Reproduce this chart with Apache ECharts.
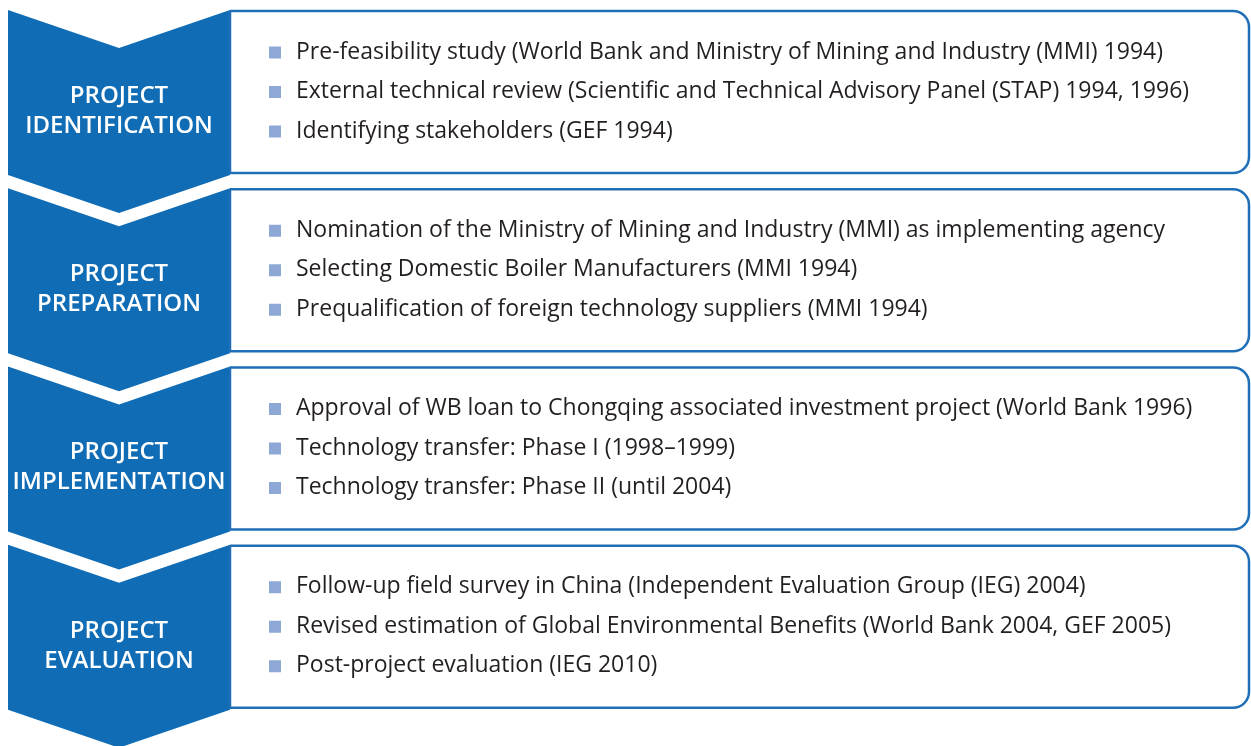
<!DOCTYPE html>
<html>
<head>
<meta charset="utf-8">
<script src="https://cdn.jsdelivr.net/npm/echarts@6/dist/echarts.min.js"></script>
<style>
  html, body { margin: 0; padding: 0; background: #fff; }
  #main { width: 1251px; height: 746px; }
</style>
</head>
<body>
<div id="main"></div>
<script>
// stage names (two lines each)
var stages = [
  ['PROJECT', 'IDENTIFICATION'],
  ['PROJECT', 'PREPARATION'],
  ['PROJECT', 'IMPLEMENTATION'],
  ['PROJECT', 'EVALUATION']
];
// activities per stage
var identification = [
  'Pre-feasibility study (World Bank and Ministry of Mining and Industry (MMI) 1994)',
  'External technical review (Scientific and Technical Advisory Panel (STAP) 1994, 1996)',
  'Identifying stakeholders (GEF 1994)'
];
var preparation = [
  'Nomination of the Ministry of Mining and Industry (MMI) as implementing agency',
  'Selecting Domestic Boiler Manufacturers (MMI 1994)',
  'Prequalification of foreign technology suppliers (MMI 1994)'
];
var implementation = [
  'Approval of WB loan to Chongqing associated investment project (World Bank 1996)',
  'Technology transfer: Phase I (1998\u20131999)',
  'Technology transfer: Phase II (until 2004)'
];
var evaluation = [
  'Follow-up field survey in China (Independent Evaluation Group (IEG) 2004)',
  'Revised estimation of Global Environmental Benefits (World Bank 2004, GEF 2005)',
  'Post-project evaluation (IEG 2010)'
];
var items = [identification, preparation, implementation, evaluation];

// colours
var blue = '#0f6cb5';
var border = '#1f6fb8';
var bullet = '#8ea8d6';
var textColor = '#231f20';

var chart = echarts.init(document.getElementById('main'));

function renderStage(params, api) {
  var i = api.value(0);
  var c = api.coord([0, i]);
  var band = api.size([0, 1])[1];
  var top = c[1] - band / 2;
  var xs = [8, 119, 230];
  var point = 38, side = 165;
  var children = [];
  // chevron
  children.push({
    type: 'polygon',
    shape: {
      points: [
        [xs[0], top], [xs[1], top + point], [xs[2], top],
        [xs[2], top + side], [xs[1], top + side + point], [xs[0], top + side]
      ]
    },
    style: { fill: blue }
  });
  // box
  children.push({
    type: 'rect',
    shape: { x: xs[2], y: top + 1, width: 1019, height: 162, r: [0, 16, 16, 0] },
    style: { fill: '#fff', stroke: border, lineWidth: 2.5 }
  });
  // stage label
  children.push({
    type: 'text',
    style: {
      x: xs[1], y: top + 101,
      text: stages[i].join('\n'),
      fill: '#fff',
      font: '600 24px "Open Sans"',
      lineHeight: 30,
      align: 'center',
      verticalAlign: 'middle'
    }
  });
  // items
  items[i].forEach(function (t, k) {
    var y = top + 42 + k * 39.5;
    children.push({
      type: 'rect',
      shape: { x: 269, y: y - 5.5, width: 12, height: 12 },
      style: { fill: bullet }
    });
    children.push({
      type: 'text',
      style: {
        x: 296, y: y,
        text: t,
        fill: textColor,
        font: '23px "Open Sans"',
        verticalAlign: 'middle'
      }
    });
  });
  return { type: 'group', children: children };
}

var option = {
  animation: false,
  grid: { left: 0, right: 0, top: 10, height: 713 },
  xAxis: { type: 'value', min: 0, max: 1, show: false },
  yAxis: { type: 'category', data: stages.map(function (s) { return s[1]; }), inverse: true, show: false },
  series: [{
    type: 'custom',
    renderItem: renderStage,
    data: stages.map(function (s, i) { return [i]; }),
    encode: { y: 0 },
    clip: false
  }]
};
chart.setOption(option);
</script>
</body>
</html>
